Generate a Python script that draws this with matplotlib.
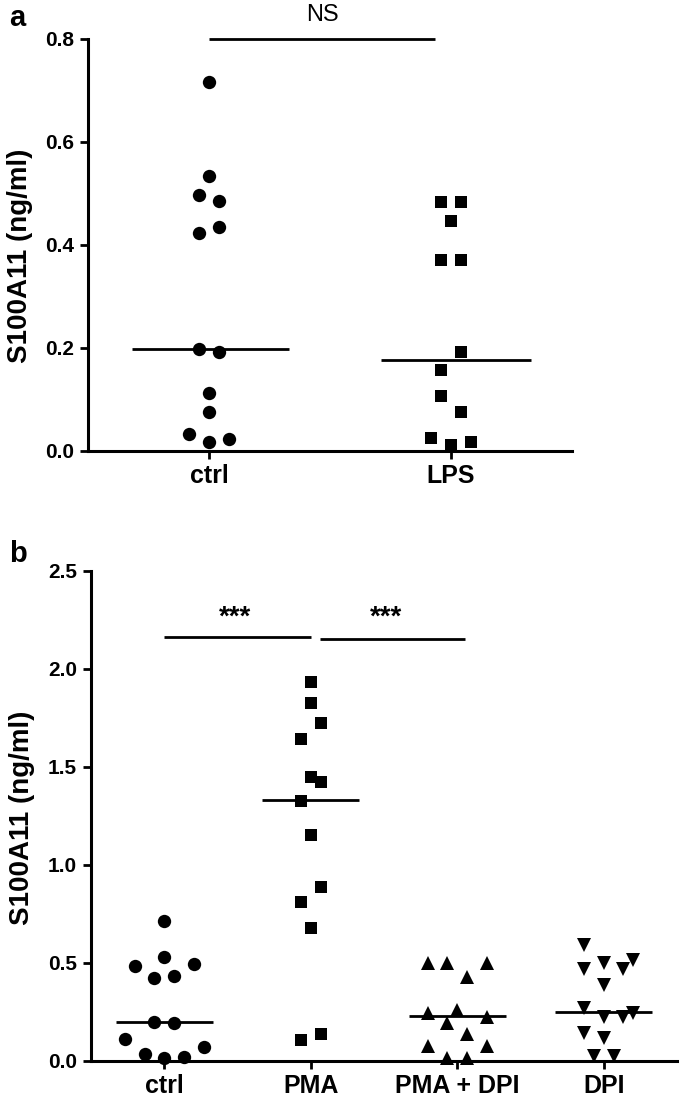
import matplotlib
matplotlib.use('Agg')
import matplotlib.pyplot as plt

plt.rcParams['font.family'] = ['Liberation Sans', 'DejaVu Sans']

# ---------------- data: panel a ----------------
a_categories = ['ctrl', 'LPS']
a_ctrl = [0.717, 0.533, 0.497, 0.486, 0.435, 0.423, 0.197, 0.192, 0.112, 0.074, 0.033, 0.017, 0.022]
a_ctrl_slot = [0, 0, -1, 1, 1, -1, -1, 1, 0, 0, -2, 0, 2]
a_lps = [0.484, 0.484, 0.446, 0.370, 0.370, 0.192, 0.156, 0.105, 0.074, 0.025, 0.011, 0.017]
a_lps_slot = [-1, 1, 0, -1, 1, 1, -1, -1, 1, -2, 0, 2]
a_medians = [0.197, 0.176]
a_yticks = [0.0, 0.2, 0.4, 0.6, 0.8]
a_sig_label = 'NS'

# ---------------- data: panel b ----------------
b_categories = ['ctrl', 'PMA', 'PMA + DPI', 'DPI']
b_ctrl = [0.712, 0.530, 0.482, 0.494, 0.423, 0.433, 0.197, 0.190, 0.112, 0.071, 0.033, 0.013, 0.019]
b_ctrl_slot = [0, 0, -3, 3, -1, 1, -1, 1, -4, 4, -2, 0, 2]
b_pma = [1.934, 1.823, 1.721, 1.640, 1.449, 1.423, 1.326, 1.150, 0.887, 0.811, 0.675, 0.136, 0.103]
b_pma_slot = [0, 0, 1, -1, 0, 1, -1, 0, 1, -1, 0, 1, -1]
b_pmadpi = [0.499, 0.496, 0.496, 0.428, 0.260, 0.241, 0.224, 0.192, 0.134, 0.076, 0.076, 0.012, 0.012]
b_pmadpi_slot = [-3, -1, 3, 1, 0, -3, 3, -1, 1, -3, 3, -1, 1]
b_dpi = [0.590, 0.499, 0.513, 0.465, 0.465, 0.385, 0.270, 0.244, 0.224, 0.224, 0.141, 0.116, 0.021, 0.021]
b_dpi_slot = [-2, 0, 3, -2, 2, 0, -2, 3, 0, 2, -2, 0, -1, 1]
b_medians = [0.197, 1.330, 0.228, 0.245]
b_yticks = [0.0, 0.5, 1.0, 1.5, 2.0, 2.5]
b_sig_label = '***'

W, H = 685, 1103
fig = plt.figure(figsize=(W / 100, H / 100), dpi=100)


def style_axes(ax, yticks, cats, ylim, xlim):
    ax.set_xlim(*xlim)
    ax.set_ylim(*ylim)
    for s in ['top', 'right']:
        ax.spines[s].set_visible(False)
    for s in ['left', 'bottom']:
        ax.spines[s].set_linewidth(2.2)
    ax.set_yticks(yticks)
    ax.set_yticklabels([f'{t:.1f}' for t in yticks], fontsize=15, fontweight='bold')
    ax.set_xticks(range(len(cats)))
    ax.set_xticklabels(cats, fontsize=18, fontweight='bold')
    ax.tick_params(axis='y', length=6, width=2, pad=4)
    ax.tick_params(axis='x', length=6, width=2, pad=3.5)


def scatter_group(ax, x0, vals, slots, slotw, marker, ms):
    xs = [x0 + s * slotw for s in slots]
    ax.plot(xs, vals, linestyle='none', marker=marker, ms=ms, mew=0,
            color='black', clip_on=False, zorder=3)


# ---------------- panel a ----------------
axa = fig.add_axes([88 / W, 1 - 450.5 / H, 484 / W, 411.5 / H])
style_axes(axa, a_yticks, a_categories, (0, 0.8), (-0.5, 1.5))
slot_a = 0.0405
scatter_group(axa, 0, a_ctrl, a_ctrl_slot, slot_a, 'o', 9.6)
scatter_group(axa, 1, a_lps, a_lps_slot, slot_a, 's', 9.1)
a_med_ext = [(-0.32, 0.33), (-0.29, 0.33)]
for i, m in enumerate(a_medians):
    l, r = a_med_ext[i]
    axa.plot([i + l, i + r], [m, m], color='black', lw=2, solid_capstyle='butt', zorder=2)
axa.plot([0, 0.935], [0.8, 0.8], color='black', lw=2, clip_on=False, solid_capstyle='butt')
axa.text(0.467, 0.847, a_sig_label, ha='center', va='center', fontsize=17, clip_on=False)

# ---------------- panel b ----------------
axb = fig.add_axes([91 / W, 1 - 1060.5 / H, 586 / W, 489.8 / H])
style_axes(axb, b_yticks, b_categories, (0, 2.5), (-0.5, 3.5))
slot_b = 0.067
scatter_group(axb, 0, b_ctrl, b_ctrl_slot, slot_b, 'o', 9.6)
scatter_group(axb, 1, b_pma, b_pma_slot, slot_b, 's', 9.1)
scatter_group(axb, 2, b_pmadpi, b_pmadpi_slot, slot_b, '^', 9.6)
scatter_group(axb, 3, b_dpi, b_dpi_slot, slot_b, 'v', 9.6)
for i, m in enumerate(b_medians):
    axb.plot([i - 0.33, i + 0.33], [m, m], color='black', lw=2, solid_capstyle='butt', zorder=2)
axb.plot([0, 1.0], [2.163, 2.163], color='black', lw=2, solid_capstyle='butt')
axb.plot([1.06, 2.05], [2.152, 2.152], color='black', lw=2, solid_capstyle='butt')
axb.text(0.48, 2.225, b_sig_label, ha='center', va='baseline', fontsize=20, fontweight='bold')
axb.text(1.515, 2.225, b_sig_label, ha='center', va='baseline', fontsize=20, fontweight='bold')

# ---------------- labels ----------------
fig.text(20 / W, 1 - 256 / H, 'S100A11 (ng/ml)', rotation=90, ha='center', va='center',
         fontsize=20, fontweight='bold')
fig.text(22 / W, 1 - 818 / H, 'S100A11 (ng/ml)', rotation=90, ha='center', va='center',
         fontsize=20, fontweight='bold')
fig.text(9 / W, 1 - 4 / H, 'a', ha='left', va='top', fontsize=21, fontweight='bold')
fig.text(9 / W, 1 - 540 / H, 'b', ha='left', va='top', fontsize=21, fontweight='bold')

fig.savefig('out.png', dpi=100)
